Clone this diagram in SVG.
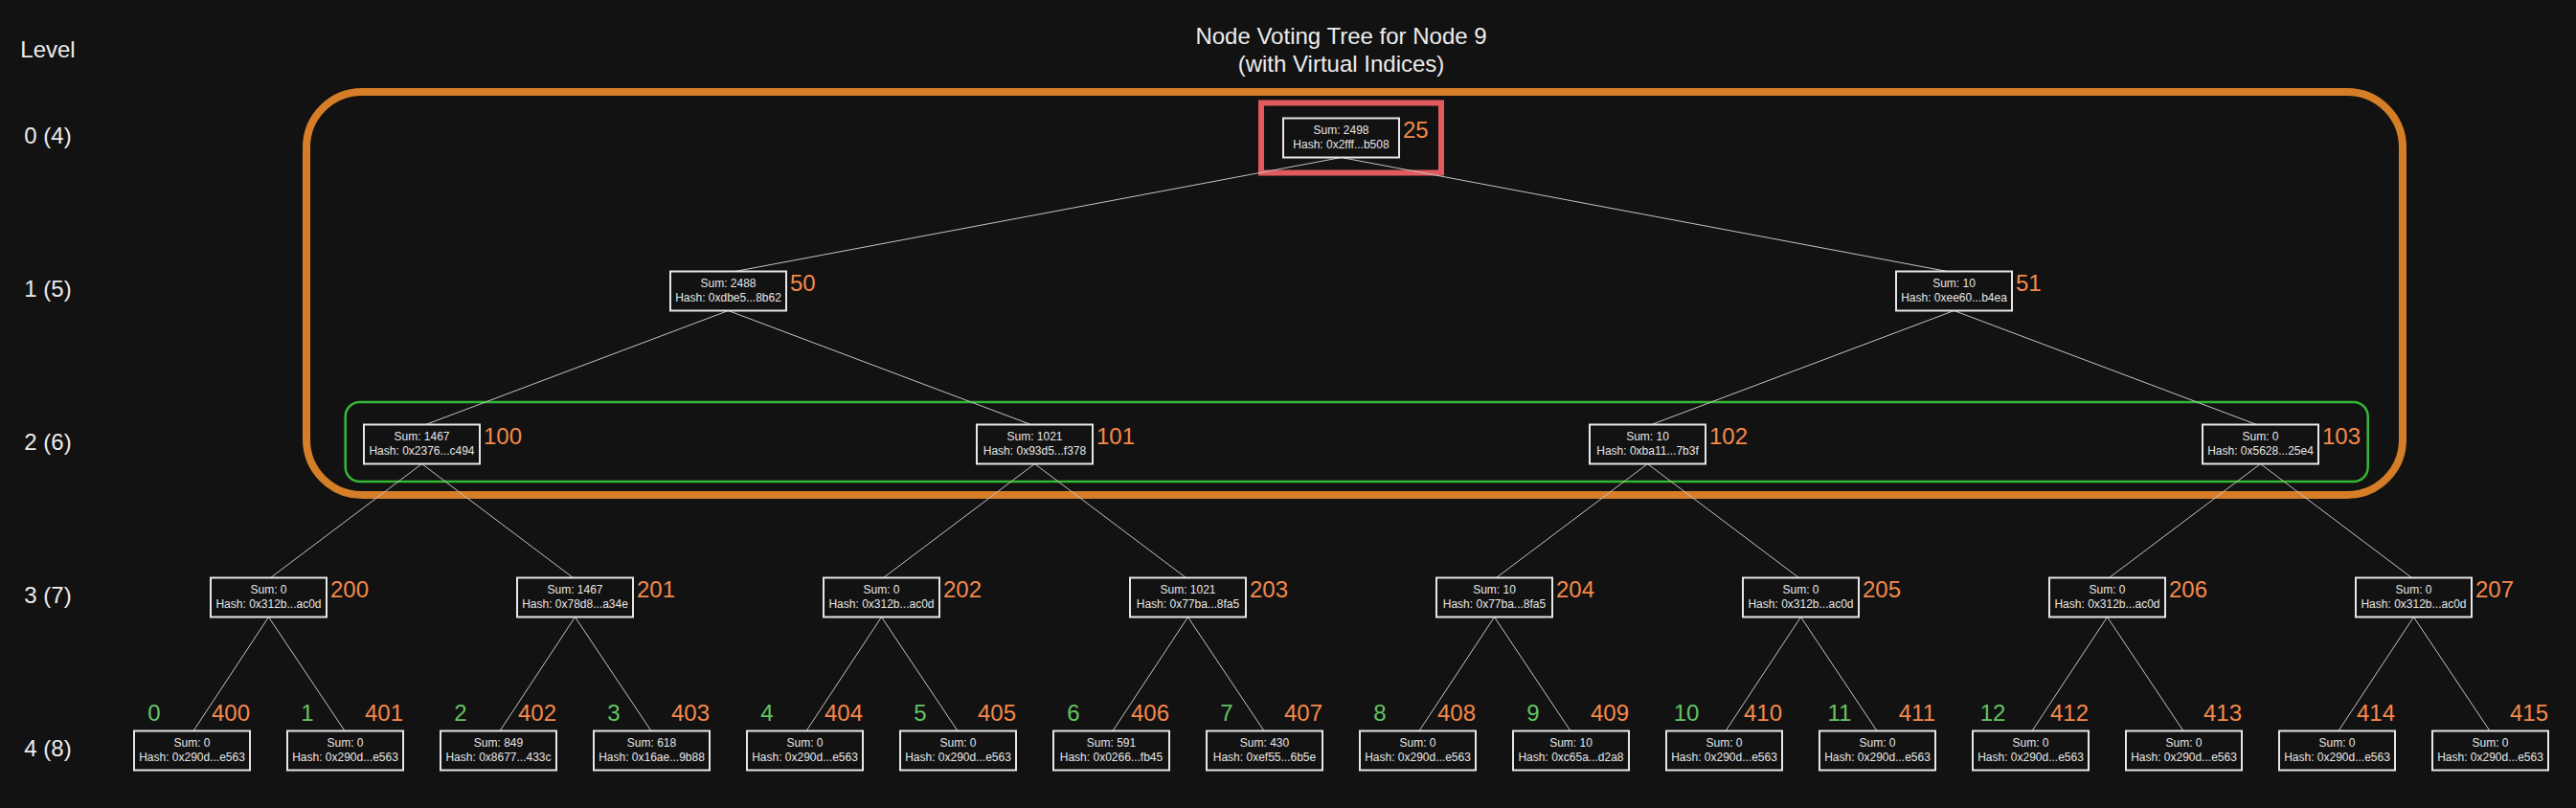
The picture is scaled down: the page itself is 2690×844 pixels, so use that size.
<svg xmlns="http://www.w3.org/2000/svg" width="2690" height="844" viewBox="0 0 2690 844">
<style>
text{font-family:"Liberation Sans",Arial,Helvetica,sans-serif;}
.t{font-size:24px;fill:#ececec;text-anchor:middle;}
.nb{fill:#121212;stroke:#e6e6e6;stroke-width:2;}
.nt{font-size:12px;fill:#e6e6e6;text-anchor:middle;}
.ix{font-size:24px;fill:#f5894b;}
.lf{font-size:24px;fill:#f5894b;text-anchor:end;}
.gi{font-size:24px;fill:#64c464;text-anchor:middle;}
.e{stroke:#c4c4c4;stroke-width:1;fill:none;}
</style>
<rect x="0" y="0" width="2690" height="844" fill="#121212"/>
<g id="title">
<text class="t" x="1400.5" y="46">Node Voting Tree for Node 9</text>
<text class="t" x="1400.5" y="75">(with Virtual Indices)</text>
</g>
<g id="levels">
<text class="t" x="50" y="60">Level</text>
<text class="t" x="50" y="149.8">0 (4)</text>
<text class="t" x="50" y="309.8">1 (5)</text>
<text class="t" x="50" y="469.8">2 (6)</text>
<text class="t" x="50" y="629.8">3 (7)</text>
<text class="t" x="50" y="789.8">4 (8)</text>
</g>
<g id="clusters">
<rect x="320" y="96" width="2189" height="421" rx="58" ry="58" fill="none" stroke="#d57d27" stroke-width="8"/>
<rect x="360.7" y="420" width="2112" height="83" rx="15" ry="15" fill="none" stroke="#33b833" stroke-width="2.5"/>
<rect x="1317" y="107.5" width="188" height="73" fill="none" stroke="#e05a5e" stroke-width="6"/>
</g>
<g id="connectors">
<line class="e" x1="1400.5" y1="164.5" x2="767.5" y2="283.5"/>
<line class="e" x1="1400.5" y1="164.5" x2="2033.5" y2="283.5"/>
<line class="e" x1="760.5" y1="324.5" x2="444.5" y2="443.5"/>
<line class="e" x1="760.5" y1="324.5" x2="1076.5" y2="443.5"/>
<line class="e" x1="2040.5" y1="324.5" x2="1724.5" y2="443.5"/>
<line class="e" x1="2040.5" y1="324.5" x2="2356.5" y2="443.5"/>
<line class="e" x1="440.5" y1="484.5" x2="282.5" y2="603.5"/>
<line class="e" x1="440.5" y1="484.5" x2="598.5" y2="603.5"/>
<line class="e" x1="1080.5" y1="484.5" x2="922.5" y2="603.5"/>
<line class="e" x1="1080.5" y1="484.5" x2="1238.5" y2="603.5"/>
<line class="e" x1="1720.5" y1="484.5" x2="1562.5" y2="603.5"/>
<line class="e" x1="1720.5" y1="484.5" x2="1878.5" y2="603.5"/>
<line class="e" x1="2360.5" y1="484.5" x2="2202.5" y2="603.5"/>
<line class="e" x1="2360.5" y1="484.5" x2="2518.5" y2="603.5"/>
<line class="e" x1="280.5" y1="644.5" x2="202" y2="763.5"/>
<line class="e" x1="280.5" y1="644.5" x2="360" y2="763.5"/>
<line class="e" x1="600.5" y1="644.5" x2="522" y2="763.5"/>
<line class="e" x1="600.5" y1="644.5" x2="680" y2="763.5"/>
<line class="e" x1="920.5" y1="644.5" x2="842" y2="763.5"/>
<line class="e" x1="920.5" y1="644.5" x2="1000" y2="763.5"/>
<line class="e" x1="1240.5" y1="644.5" x2="1162" y2="763.5"/>
<line class="e" x1="1240.5" y1="644.5" x2="1320" y2="763.5"/>
<line class="e" x1="1560.5" y1="644.5" x2="1482" y2="763.5"/>
<line class="e" x1="1560.5" y1="644.5" x2="1640" y2="763.5"/>
<line class="e" x1="1880.5" y1="644.5" x2="1802" y2="763.5"/>
<line class="e" x1="1880.5" y1="644.5" x2="1960" y2="763.5"/>
<line class="e" x1="2200.5" y1="644.5" x2="2122" y2="763.5"/>
<line class="e" x1="2200.5" y1="644.5" x2="2280" y2="763.5"/>
<line class="e" x1="2520.5" y1="644.5" x2="2442" y2="763.5"/>
<line class="e" x1="2520.5" y1="644.5" x2="2600" y2="763.5"/>
</g>
<g id="n25"><rect class="nb" x="1340" y="123.5" width="121" height="41"/><text class="nt" x="1400.5" y="140">Sum: 2498</text><text class="nt" x="1400.5" y="154.5">Hash: 0x2fff...b508</text><text class="ix" x="1465" y="143.5">25</text></g>
<g id="n50"><rect class="nb" x="700" y="283.5" width="121" height="41"/><text class="nt" x="760.5" y="300">Sum: 2488</text><text class="nt" x="760.5" y="314.5">Hash: 0xdbe5...8b62</text><text class="ix" x="825" y="303.5">50</text></g>
<g id="n51"><rect class="nb" x="1980" y="283.5" width="121" height="41"/><text class="nt" x="2040.5" y="300">Sum: 10</text><text class="nt" x="2040.5" y="314.5">Hash: 0xee60...b4ea</text><text class="ix" x="2105" y="303.5">51</text></g>
<g id="n100"><rect class="nb" x="380" y="443.5" width="121" height="41"/><text class="nt" x="440.5" y="460">Sum: 1467</text><text class="nt" x="440.5" y="474.5">Hash: 0x2376...c494</text><text class="ix" x="505" y="463.5">100</text></g>
<g id="n101"><rect class="nb" x="1020" y="443.5" width="121" height="41"/><text class="nt" x="1080.5" y="460">Sum: 1021</text><text class="nt" x="1080.5" y="474.5">Hash: 0x93d5...f378</text><text class="ix" x="1145" y="463.5">101</text></g>
<g id="n102"><rect class="nb" x="1660" y="443.5" width="121" height="41"/><text class="nt" x="1720.5" y="460">Sum: 10</text><text class="nt" x="1720.5" y="474.5">Hash: 0xba11...7b3f</text><text class="ix" x="1785" y="463.5">102</text></g>
<g id="n103"><rect class="nb" x="2300" y="443.5" width="121" height="41"/><text class="nt" x="2360.5" y="460">Sum: 0</text><text class="nt" x="2360.5" y="474.5">Hash: 0x5628...25e4</text><text class="ix" x="2425" y="463.5">103</text></g>
<g id="n200"><rect class="nb" x="220" y="603.5" width="121" height="41"/><text class="nt" x="280.5" y="620">Sum: 0</text><text class="nt" x="280.5" y="634.5">Hash: 0x312b...ac0d</text><text class="ix" x="345" y="623.5">200</text></g>
<g id="n201"><rect class="nb" x="540" y="603.5" width="121" height="41"/><text class="nt" x="600.5" y="620">Sum: 1467</text><text class="nt" x="600.5" y="634.5">Hash: 0x78d8...a34e</text><text class="ix" x="665" y="623.5">201</text></g>
<g id="n202"><rect class="nb" x="860" y="603.5" width="121" height="41"/><text class="nt" x="920.5" y="620">Sum: 0</text><text class="nt" x="920.5" y="634.5">Hash: 0x312b...ac0d</text><text class="ix" x="985" y="623.5">202</text></g>
<g id="n203"><rect class="nb" x="1180" y="603.5" width="121" height="41"/><text class="nt" x="1240.5" y="620">Sum: 1021</text><text class="nt" x="1240.5" y="634.5">Hash: 0x77ba...8fa5</text><text class="ix" x="1305" y="623.5">203</text></g>
<g id="n204"><rect class="nb" x="1500" y="603.5" width="121" height="41"/><text class="nt" x="1560.5" y="620">Sum: 10</text><text class="nt" x="1560.5" y="634.5">Hash: 0x77ba...8fa5</text><text class="ix" x="1625" y="623.5">204</text></g>
<g id="n205"><rect class="nb" x="1820" y="603.5" width="121" height="41"/><text class="nt" x="1880.5" y="620">Sum: 0</text><text class="nt" x="1880.5" y="634.5">Hash: 0x312b...ac0d</text><text class="ix" x="1945" y="623.5">205</text></g>
<g id="n206"><rect class="nb" x="2140" y="603.5" width="121" height="41"/><text class="nt" x="2200.5" y="620">Sum: 0</text><text class="nt" x="2200.5" y="634.5">Hash: 0x312b...ac0d</text><text class="ix" x="2265" y="623.5">206</text></g>
<g id="n207"><rect class="nb" x="2460" y="603.5" width="121" height="41"/><text class="nt" x="2520.5" y="620">Sum: 0</text><text class="nt" x="2520.5" y="634.5">Hash: 0x312b...ac0d</text><text class="ix" x="2585" y="623.5">207</text></g>
<g id="n400"><rect class="nb" x="140" y="763.5" width="121" height="41"/><text class="nt" x="200.5" y="780">Sum: 0</text><text class="nt" x="200.5" y="794.5">Hash: 0x290d...e563</text><text class="gi" x="161" y="753">0</text><text class="lf" x="261" y="753">400</text></g>
<g id="n401"><rect class="nb" x="300" y="763.5" width="121" height="41"/><text class="nt" x="360.5" y="780">Sum: 0</text><text class="nt" x="360.5" y="794.5">Hash: 0x290d...e563</text><text class="gi" x="321" y="753">1</text><text class="lf" x="421" y="753">401</text></g>
<g id="n402"><rect class="nb" x="460" y="763.5" width="121" height="41"/><text class="nt" x="520.5" y="780">Sum: 849</text><text class="nt" x="520.5" y="794.5">Hash: 0x8677...433c</text><text class="gi" x="481" y="753">2</text><text class="lf" x="581" y="753">402</text></g>
<g id="n403"><rect class="nb" x="620" y="763.5" width="121" height="41"/><text class="nt" x="680.5" y="780">Sum: 618</text><text class="nt" x="680.5" y="794.5">Hash: 0x16ae...9b88</text><text class="gi" x="641" y="753">3</text><text class="lf" x="741" y="753">403</text></g>
<g id="n404"><rect class="nb" x="780" y="763.5" width="121" height="41"/><text class="nt" x="840.5" y="780">Sum: 0</text><text class="nt" x="840.5" y="794.5">Hash: 0x290d...e563</text><text class="gi" x="801" y="753">4</text><text class="lf" x="901" y="753">404</text></g>
<g id="n405"><rect class="nb" x="940" y="763.5" width="121" height="41"/><text class="nt" x="1000.5" y="780">Sum: 0</text><text class="nt" x="1000.5" y="794.5">Hash: 0x290d...e563</text><text class="gi" x="961" y="753">5</text><text class="lf" x="1061" y="753">405</text></g>
<g id="n406"><rect class="nb" x="1100" y="763.5" width="121" height="41"/><text class="nt" x="1160.5" y="780">Sum: 591</text><text class="nt" x="1160.5" y="794.5">Hash: 0x0266...fb45</text><text class="gi" x="1121" y="753">6</text><text class="lf" x="1221" y="753">406</text></g>
<g id="n407"><rect class="nb" x="1260" y="763.5" width="121" height="41"/><text class="nt" x="1320.5" y="780">Sum: 430</text><text class="nt" x="1320.5" y="794.5">Hash: 0xef55...6b5e</text><text class="gi" x="1281" y="753">7</text><text class="lf" x="1381" y="753">407</text></g>
<g id="n408"><rect class="nb" x="1420" y="763.5" width="121" height="41"/><text class="nt" x="1480.5" y="780">Sum: 0</text><text class="nt" x="1480.5" y="794.5">Hash: 0x290d...e563</text><text class="gi" x="1441" y="753">8</text><text class="lf" x="1541" y="753">408</text></g>
<g id="n409"><rect class="nb" x="1580" y="763.5" width="121" height="41"/><text class="nt" x="1640.5" y="780">Sum: 10</text><text class="nt" x="1640.5" y="794.5">Hash: 0xc65a...d2a8</text><text class="gi" x="1601" y="753">9</text><text class="lf" x="1701" y="753">409</text></g>
<g id="n410"><rect class="nb" x="1740" y="763.5" width="121" height="41"/><text class="nt" x="1800.5" y="780">Sum: 0</text><text class="nt" x="1800.5" y="794.5">Hash: 0x290d...e563</text><text class="gi" x="1761" y="753">10</text><text class="lf" x="1861" y="753">410</text></g>
<g id="n411"><rect class="nb" x="1900" y="763.5" width="121" height="41"/><text class="nt" x="1960.5" y="780">Sum: 0</text><text class="nt" x="1960.5" y="794.5">Hash: 0x290d...e563</text><text class="gi" x="1921" y="753">11</text><text class="lf" x="2021" y="753">411</text></g>
<g id="n412"><rect class="nb" x="2060" y="763.5" width="121" height="41"/><text class="nt" x="2120.5" y="780">Sum: 0</text><text class="nt" x="2120.5" y="794.5">Hash: 0x290d...e563</text><text class="gi" x="2081" y="753">12</text><text class="lf" x="2181" y="753">412</text></g>
<g id="n413"><rect class="nb" x="2220" y="763.5" width="121" height="41"/><text class="nt" x="2280.5" y="780">Sum: 0</text><text class="nt" x="2280.5" y="794.5">Hash: 0x290d...e563</text><text class="lf" x="2341" y="753">413</text></g>
<g id="n414"><rect class="nb" x="2380" y="763.5" width="121" height="41"/><text class="nt" x="2440.5" y="780">Sum: 0</text><text class="nt" x="2440.5" y="794.5">Hash: 0x290d...e563</text><text class="lf" x="2501" y="753">414</text></g>
<g id="n415"><rect class="nb" x="2540" y="763.5" width="121" height="41"/><text class="nt" x="2600.5" y="780">Sum: 0</text><text class="nt" x="2600.5" y="794.5">Hash: 0x290d...e563</text><text class="lf" x="2661" y="753">415</text></g>
</svg>
